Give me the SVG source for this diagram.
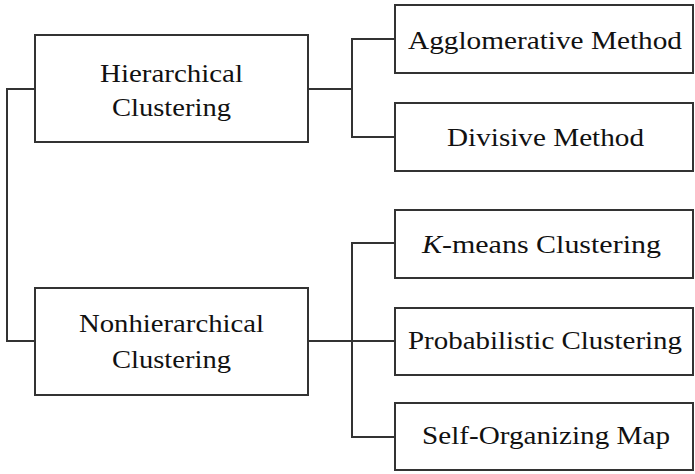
<svg xmlns="http://www.w3.org/2000/svg" width="695" height="474" viewBox="0 0 695 474">
<style>
.box{fill:#fff;stroke:#333;stroke-width:2}
.conn{fill:none;stroke:#333;stroke-width:2}
.lbl{font-family:"Liberation Serif","Times New Roman",serif;font-size:26px;fill:#111;text-anchor:middle}
</style>
<rect width="695" height="474" fill="#fff"/>
<g id="connectors">
<path class="conn" d="M35,89 H7 V341 H35"/>
<path class="conn" d="M308,89 H352"/>
<path class="conn" d="M395,39 H352 V137 H395"/>
<path class="conn" d="M308,341 H395"/>
<path class="conn" d="M395,243 H352 V437 H395"/>
</g>
<g id="hierarchical">
<rect class="box" x="35" y="35" width="273" height="107"/>
<text class="lbl" x="171.5" y="82" textLength="143" lengthAdjust="spacingAndGlyphs">Hierarchical</text>
<text class="lbl" x="171.5" y="116" textLength="119" lengthAdjust="spacingAndGlyphs">Clustering</text>
</g>
<g id="nonhierarchical">
<rect class="box" x="35" y="288" width="273" height="107"/>
<text class="lbl" x="171.5" y="332" textLength="185" lengthAdjust="spacingAndGlyphs">Nonhierarchical</text>
<text class="lbl" x="171.5" y="368" textLength="119" lengthAdjust="spacingAndGlyphs">Clustering</text>
</g>
<g id="agglomerative">
<rect class="box" x="395" y="5" width="298" height="68"/>
<text class="lbl" x="545" y="49" textLength="274" lengthAdjust="spacingAndGlyphs">Agglomerative Method</text>
</g>
<g id="divisive">
<rect class="box" x="395" y="103" width="298" height="68"/>
<text class="lbl" x="545.5" y="146" textLength="197" lengthAdjust="spacingAndGlyphs">Divisive Method</text>
</g>
<g id="kmeans">
<rect class="box" x="395" y="210" width="298" height="68"/>
<text class="lbl" x="541.5" y="253" textLength="239" lengthAdjust="spacingAndGlyphs"><tspan font-style="italic">K</tspan>-means Clustering</text>
</g>
<g id="probabilistic">
<rect class="box" x="395" y="308" width="298" height="67"/>
<text class="lbl" x="545" y="349" textLength="274" lengthAdjust="spacingAndGlyphs">Probabilistic Clustering</text>
</g>
<g id="som">
<rect class="box" x="395" y="403" width="298" height="67"/>
<text class="lbl" x="546" y="444" textLength="248" lengthAdjust="spacingAndGlyphs">Self-Organizing Map</text>
</g>
</svg>
